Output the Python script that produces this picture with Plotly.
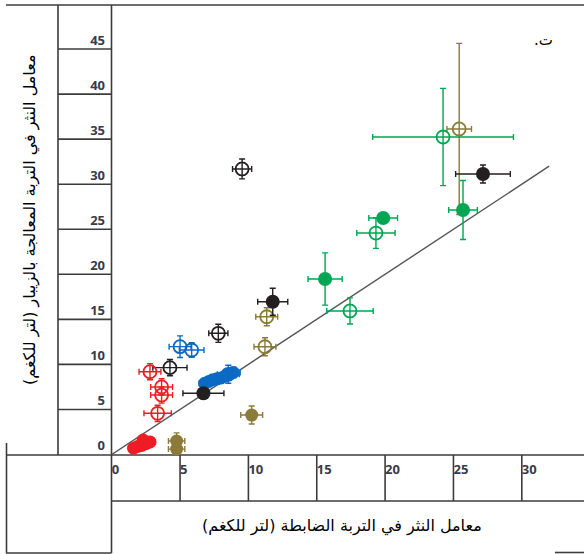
import plotly.graph_objects as go

# ---------------- data ----------------
x_ticks = [0, 5, 10, 15, 20, 25, 30]
y_ticks = [0, 5, 10, 15, 20, 25, 30, 35, 40, 45]
x_tick_text = ["0", "5", "10", "15", "20", "25", "30"]
y_tick_text = ["0", "5", "10", "15", "20", "25", "30", "35", "40", "45"]

one_to_one_x = [0, 32]
one_to_one_y = [0, 32]

black_filled_x = [27.16, 11.78, 6.71]
black_filled_y = [31.13, 16.96, 6.79]
black_filled_ex = [2.0, 1.1, 1.5]
black_filled_ey = [1.0, 1.5, 0.6]

black_open_x = [9.54, 7.80, 4.26]
black_open_y = [31.69, 13.45, 9.64]
black_open_ex = [0.7, 0.7, 1.25]
black_open_ey = [1.1, 1.0, 0.9]

blue_filled_x = [6.8, 7.1, 7.4, 7.7, 8.0, 8.3, 8.6, 8.9]
blue_filled_y = [7.9, 8.1, 8.3, 8.4, 8.5, 8.7, 8.9, 9.1]
blue_filled_ex = [0.4, 0.4, 0.4, 0.4, 0.4, 0.4, 0.4, 0.5]
blue_filled_ey = [0.4, 0.4, 0.4, 0.4, 0.4, 0.4, 0.4, 0.6]

blue_open_x = [5.0, 5.85, 8.53]
blue_open_y = [11.97, 11.6, 8.9]
blue_open_ex = [0.8, 0.9, 0.8]
blue_open_ey = [1.2, 0.8, 1.0]

red_filled_x = [1.6, 1.9, 2.2, 2.5, 2.8, 2.3]
red_filled_y = [0.7, 0.9, 1.0, 1.2, 1.4, 1.6]
red_filled_ex = [0.3, 0.3, 0.3, 0.3, 0.4, 0.3]
red_filled_ey = [0.3, 0.3, 0.3, 0.3, 0.3, 0.3]

red_open_x = [2.8, 3.65, 3.65, 3.36]
red_open_y = [9.19, 7.5, 6.6, 4.57]
red_open_ex = [0.8, 0.8, 0.8, 1.0]
red_open_ey = [0.9, 0.9, 0.9, 0.9]

olive_filled_x = [4.75, 4.75, 10.24]
olive_filled_y = [0.6, 1.5, 4.38]
olive_filled_ex = [0.6, 0.6, 0.8]
olive_filled_ey = [0.9, 0.9, 1.0]

olive_open_x = [11.34, 11.21, 25.42]
olive_open_y = [15.29, 11.96, 36.13]
olive_open_ex = [0.8, 0.8, 0.9]
olive_open_ey = [1.0, 1.0, 9.5]

green_filled_x = [25.7, 19.86, 15.61]
green_filled_y = [27.14, 26.25, 19.48]
green_filled_ex = [1.05, 1.05, 1.25]
green_filled_ey = [3.27, 0.6, 2.9]

green_open_x = [24.24, 19.33, 17.43]
green_open_y = [35.24, 24.58, 15.93]
green_open_ex = [5.15, 1.4, 1.7]
green_open_ey = [5.4, 1.7, 1.45]

panel_label = "ت.\u200f"
x_title = "\u200fمعامل النثر في التربة الضابطة (لتر للكغم)\u200f"
y_title = "\u200fمعامل النثر في التربة المعالجة بالزيبار (لتر للكغم)\u200f"

# ---------------- styles ----------------
BLACK = "#231f20"
BLUE = "#0a6ac4"
RED = "#ee1c25"
OLIVE = "#8b7a3a"
GREEN = "#00a651"
FRAME = "#3c3c3c"

W, H = 584, 554
ML, MR, MT, MB = 111, 0, 5, 99
PW, PH = W - ML - MR, H - MT - MB
SX, SY = 13.67, 9.01
X0PX, Y0PX = 111.7, 454.5

x_range = [-(X0PX - ML) / SX, (ML + PW - X0PX) / SX]
y_range = [-(MT + PH - Y0PX) / SY, (Y0PX - MT) / SY]


def px(xp):
    return (xp - ML) / PW


def py(yp):
    return (MT + PH - yp) / PH


fig = go.Figure()

fig.add_trace(go.Scatter(x=one_to_one_x, y=one_to_one_y, mode="lines",
                         line=dict(color="#555555", width=1.4),
                         showlegend=False, hoverinfo="skip"))


def add_series(x, y, ex, ey, color, filled, size=14):
    if filled:
        marker = dict(symbol="circle", size=size, color=color,
                      line=dict(width=0))
    else:
        marker = dict(symbol="circle-open", size=size - 1, color=color,
                      line=dict(width=1.8, color=color))
    fig.add_trace(go.Scatter(
        x=x, y=y, mode="markers", marker=marker, showlegend=False,
        cliponaxis=False,
        error_x=dict(type="data", array=ex, visible=True, color=color,
                     thickness=1.4, width=3),
        error_y=dict(type="data", array=ey, visible=True, color=color,
                     thickness=1.4, width=3),
    ))


add_series(olive_open_x, olive_open_y, olive_open_ex, olive_open_ey, OLIVE, False)
add_series(green_open_x, green_open_y, green_open_ex, green_open_ey, GREEN, False)
add_series(black_open_x, black_open_y, black_open_ex, black_open_ey, BLACK, False)
add_series(blue_open_x, blue_open_y, blue_open_ex, blue_open_ey, BLUE, False)
add_series(red_open_x, red_open_y, red_open_ex, red_open_ey, RED, False)
add_series(blue_filled_x, blue_filled_y, blue_filled_ex, blue_filled_ey, BLUE, True, 13)
add_series(red_filled_x, red_filled_y, red_filled_ex, red_filled_ey, RED, True, 13)
add_series(olive_filled_x, olive_filled_y, olive_filled_ex, olive_filled_ey, OLIVE, True, 13)
add_series(green_filled_x, green_filled_y, green_filled_ex, green_filled_ey, GREEN, True)
add_series(black_filled_x, black_filled_y, black_filled_ex, black_filled_ey, BLACK, True)

# ---------------- frame (table-like grid) ----------------
shapes = []
lw = 1.6


def line(x0, y0, x1, y1, xref="paper", yref="paper"):
    shapes.append(dict(type="line", x0=x0, y0=y0, x1=x1, y1=y1,
                       xref=xref, yref=yref,
                       line=dict(color=FRAME, width=lw), layer="below"))


# top border
line(px(6), py(5), px(584), py(5))
# y-label column borders
line(px(58), py(5), px(58), py(455))
line(px(111.5), py(5), px(111.5), py(553))
# horizontal axis line
line(px(6), py(455), px(584), py(455))
# y cell separators at tick values
for v in y_ticks[1:]:
    line(px(58), v, px(111.5), v, yref="y")
# bottom-left box
line(px(6.5), py(443), px(6.5), py(553))
line(px(6), py(553), px(111.5), py(553))
# x tick cells
for v in x_ticks[1:]:
    line(v, py(455), v, py(501), xref="x")
line(px(111.5), py(501), px(584), py(501))
line(px(555), py(552.5), px(584), py(552.5))

tick_font = dict(family="Open Sans", size=13, color="#3a3a48", weight="bold")

fig.update_layout(
    width=W, height=H,
    margin=dict(l=ML, r=MR, t=MT, b=MB, pad=0),
    paper_bgcolor="white", plot_bgcolor="white",
    shapes=shapes,
    xaxis=dict(range=x_range, showgrid=False, zeroline=False, showline=False,
               tickmode="array", tickvals=x_ticks, ticktext=x_tick_text,
               ticks="", ticklabelposition="outside right",
               ticklabelstandoff=5, tickfont=tick_font),
    yaxis=dict(range=y_range, showgrid=False, zeroline=False, showline=False,
               tickmode="array", tickvals=y_ticks, ticktext=y_tick_text,
               ticks="", ticklabelposition="outside top",
               ticklabelstandoff=5, tickfont=tick_font),
    annotations=[
        dict(text=panel_label, x=px(543), y=py(40), xref="paper", yref="paper",
             xanchor="center", yanchor="middle",
             showarrow=False, font=dict(family="DejaVu Sans", size=15, color="black")),
        dict(text=x_title, x=px(342), y=py(526), xref="paper", yref="paper",
             xanchor="center", yanchor="middle",
             showarrow=False, font=dict(family="DejaVu Sans", size=16, color="black")),
        dict(text=y_title, x=px(30), y=py(220), xref="paper", yref="paper",
             xanchor="center", yanchor="middle",
             textangle=-90, showarrow=False,
             font=dict(family="DejaVu Sans", size=16, color="black")),
    ],
)

fig.write_html("out.html", config={"displayModeBar": False},
               post_script="document.body.style.margin='0';document.body.style.padding='0';")
